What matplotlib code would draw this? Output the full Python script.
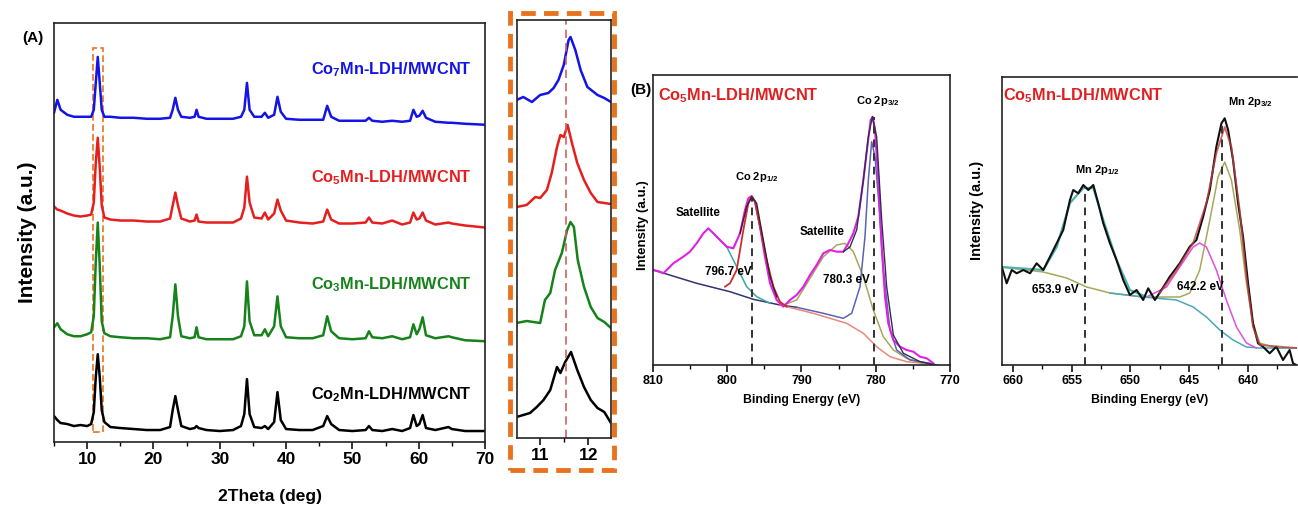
import matplotlib
matplotlib.use("Agg")
import matplotlib.pyplot as plt
from matplotlib.patches import Rectangle
from matplotlib.ticker import MultipleLocator

plt.rcParams['font.family'] = ['Liberation Sans Narrow', 'Liberation Sans', 'DejaVu Sans']
plt.rcParams['mathtext.default'] = 'regular'

W, H = 1298, 512

# ---------------- (A) XRD data ----------------
xrd_names = ['Co$_7$Mn-LDH/MWCNT', 'Co$_5$Mn-LDH/MWCNT', 'Co$_3$Mn-LDH/MWCNT', 'Co$_2$Mn-LDH/MWCNT']
xrd_colors = ['#1414e6', '#e61e1e', '#16821a', '#000000']
xrd_offset = [318, 215, 101, 10]

two_theta = [5, 5.5, 6, 7, 8, 9, 10, 10.6, 11.0, 11.3, 11.6, 11.9, 12.2, 12.6, 13.5, 15, 17, 19, 21,
             22.5, 22.9, 23.3, 23.7, 24.2, 25.5, 26.2, 26.5, 26.8, 28, 30, 32, 33.2, 33.7, 34.1, 34.5,
             35.2, 36.3, 36.8, 37.3, 38.2, 38.7, 39.2, 40, 42, 44, 45.6, 46.2, 46.8, 48, 50, 52, 52.5,
             53, 54.5, 56, 57.5, 58.7, 59.2, 59.7, 60.1, 60.6, 61.1, 62.5, 64.5, 65, 67, 70]
i_co7 = [12, 25, 15, 10, 8, 8, 8, 8, 15, 42, 68, 42, 15, 8, 8, 7, 7, 6, 6,
         7, 15, 27, 15, 8, 7, 8, 15, 8, 6, 6, 6, 8, 15, 42, 15,
         8, 8, 12, 7, 10, 28, 13, 6, 5, 5, 5, 19, 8, 4, 4, 4, 7,
         4, 3, 4, 3, 4, 15, 8, 9, 14, 7, 3, 2, 2, 1, 0]
i_co5 = [21, 18, 17, 14, 12, 11, 12, 13, 25, 65, 90, 60, 22, 10, 8, 7, 7, 6, 6,
         9, 22, 35, 22, 9, 6, 7, 13, 6, 5, 5, 5, 9, 20, 51, 25,
         10, 9, 15, 8, 14, 28, 17, 7, 5, 4, 6, 18, 8, 4, 4, 5, 10,
         5, 4, 7, 3, 5, 15, 8, 9, 15, 7, 3, 5, 4, 2, 0]
i_co3 = [14, 18, 12, 7, 5, 5, 7, 9, 25, 80, 119, 75, 20, 8, 5, 4, 3, 3, 2,
         4, 25, 57, 25, 5, 3, 4, 14, 4, 2, 2, 2, 5, 15, 60, 20,
         6, 6, 12, 5, 15, 45, 15, 4, 3, 3, 6, 25, 10, 3, 2, 3, 10,
         4, 3, 5, 2, 4, 17, 7, 12, 24, 6, 3, 5, 4, 1, 0]
i_co2 = [16, 12, 9, 8, 6, 7, 6, 8, 20, 55, 78, 55, 22, 10, 5, 4, 3, 2, 2,
         5, 22, 36, 22, 6, 3, 4, 6, 4, 2, 1, 2, 6, 18, 53, 18,
         5, 4, 6, 3, 10, 40, 12, 3, 2, 2, 6, 16, 8, 2, 1, 2, 6,
         2, 1, 3, 1, 4, 17, 6, 8, 17, 4, 2, 5, 3, 1, 1]
xrd_series = [i_co7, i_co5, i_co3, i_co2]

# zoom of the (003) reflection
zoom_offset = [336, 234, 115, 21]
z_x_co7 = [10.51, 10.65, 10.83, 11.0, 11.17, 11.28, 11.38, 11.49, 11.59, 11.63, 11.73, 11.84, 11.98, 12.19, 12.33, 12.47]
z_y_co7 = [2, 5, 0, 7, 9, 14, 22, 37, 62, 65, 52, 32, 15, 7, 4, 0]
z_x_co5 = [10.51, 10.72, 10.90, 11.0, 11.14, 11.24, 11.35, 11.42, 11.49, 11.57, 11.66, 11.77, 11.91, 12.05, 12.19, 12.33, 12.47]
z_y_co5 = [-3, -1, 7, 6, 14, 31, 57, 69, 67, 79, 61, 41, 24, 11, 2, 1, 0]
z_x_co3 = [10.51, 10.72, 10.86, 11.0, 11.10, 11.21, 11.31, 11.45, 11.56, 11.63, 11.70, 11.78, 11.91, 12.05, 12.19, 12.33, 12.47]
z_y_co3 = [0, 2, 1, 0, 23, 30, 53, 70, 93, 101, 96, 63, 36, 16, 5, 1, -5]
z_x_co2 = [10.51, 10.65, 10.79, 10.93, 11.07, 11.21, 11.35, 11.42, 11.52, 11.64, 11.77, 11.91, 12.05, 12.19, 12.33, 12.47]
z_y_co2 = [0, 2, 4, 10, 17, 27, 50, 44, 55, 65, 47, 30, 17, 9, 5, -6]
zoom_x = [z_x_co7, z_x_co5, z_x_co3, z_x_co2]
zoom_y = [z_y_co7, z_y_co5, z_y_co3, z_y_co2]
ref_peak = 11.54

# ---------------- (B) XPS Co 2p ----------------
co_be = [809.96, 809.06, 808.61, 807.26, 805.92, 805.02, 804.12, 803.22, 802.55, 801.87, 800.98, 800.08,
         799.18, 798.28, 797.61, 797.16, 796.71, 796.26, 795.59, 794.92, 794.24, 793.34, 792.45, 791.55,
         790.65, 789.75, 788.85, 787.96, 787.06, 786.16, 785.26, 784.37, 783.69, 783.02, 782.35, 781.67,
         781.13, 780.68, 780.41, 780.10, 779.65, 779.20, 778.75, 778.31, 777.63, 776.73, 775.84, 774.94,
         774.04, 773.14, 772.24]
co_raw = [95, 93.3, 91.7, 101.7, 108.3, 113.3, 121.7, 131.7, 136.7, 131.7, 125, 118.3,
          116.7, 131.7, 155, 166.7, 169, 163.3, 138.3, 108.3, 81.7, 65, 58.3, 65,
          70, 78.3, 90, 100, 111.7, 115, 113.3, 113.3, 121.7, 131.7, 148.3, 185,
          218.3, 245, 248.3, 235, 185, 118.3, 68.3, 41.7, 25, 18.3, 15, 13.3,
          8.3, 6.7, 1.7]
co_bg_be = [809.96, 804.12, 799.63, 796.49, 792.90, 790.65]
co_bg = [95, 81.7, 73.3, 65.7, 60, 57.7]
co_p12_be = [800.30, 799.63, 798.73, 797.83, 797.16, 796.71, 796.26, 795.59, 794.69, 793.79, 792.90, 792.0]
co_p12 = [78.3, 81.7, 95, 135, 161.7, 168.3, 163.3, 138.3, 105, 78.3, 63.3, 58.3]
co_bg2_be = [792.90, 788.41, 783.92, 781.67, 779.88, 778.08, 775.84, 773.59, 771.80]
co_bg2 = [60, 51.7, 41.7, 31.7, 18.3, 8.3, 3.3, 1.7, 0]
co_sat1_be = [801.87, 800.08, 798.73, 797.38, 796.04, 794.24]
co_sat1 = [131.7, 118.3, 98.3, 78.3, 68.3, 61.7]
co_sat2_be = [792.45, 790.65, 788.85, 787.06, 785.26, 784.14, 783.02, 781.67, 780.33, 778.98, 777.63, 775.84, 773.59]
co_sat2 = [60, 65, 86.7, 108.3, 120, 121.7, 113.3, 88.3, 55, 28.3, 15, 6.7, 1.7]
co_p32_be = [790.65, 787.06, 784.37, 783.24, 782.12, 781.45, 781.0, 780.55, 780.10, 779.65, 778.98, 778.08, 777.18, 775.39, 772.69]
co_p32 = [57.7, 51.7, 46.7, 51.7, 78.3, 128.3, 185, 223.3, 208.3, 168.3, 95, 35, 15, 5, 1.7]
co_env_a_be = [798.28, 797.38, 796.71, 796.04, 795.14, 794.24, 793.34]
co_env_a = [131.7, 158.3, 168.3, 161.7, 125, 88.3, 68.3]
co_env_b_be = [784.37, 783.47, 782.57, 781.67, 781.0, 780.46, 779.88, 779.20, 778.53, 777.63, 776.28, 774.04, 771.80]
co_env_b = [113.3, 118, 135, 185, 228.3, 248.3, 228.3, 145, 78.3, 30, 11.7, 3.3, 0]
co_marks = [796.7, 780.3]
co_mark_top = [168, 248]

# ---------------- (B) XPS Mn 2p ----------------
mn_be = [660.96, 660.54, 660.11, 659.69, 659.12, 658.55, 657.99, 657.42, 656.85, 656.28, 655.72, 655.15,
         654.87, 654.44, 654.01, 653.59, 653.16, 652.74, 652.31, 651.74, 651.18, 650.61, 650.04, 649.47,
         648.91, 648.48, 647.91, 647.35, 646.64, 645.79, 644.94, 644.37, 643.80, 643.23, 642.67, 642.24,
         641.96, 641.67, 641.25, 640.82, 640.40, 639.97, 639.55, 639.12, 638.70, 638.13, 637.56, 636.99,
         636.43, 636.14, 635.86]
mn_raw = [98.3, 81.7, 95, 91.7, 95, 91.7, 101.7, 95, 108.3, 121.7, 135, 165,
          175, 171.7, 180, 175, 180, 161.7, 141.7, 121.7, 105, 85, 70, 75,
          65, 76.7, 65, 75, 88.3, 101.7, 118.3, 125, 148.3, 175, 218.3, 241.7,
          246.7, 235, 205, 161.7, 128.3, 81.7, 41.7, 21.7, 18.3, 11.7, 18.3, 5,
          15, 1.7, 0]
mn_p32_be = [660.96, 657.42, 655.43, 653.73, 651.74, 648.91, 645.79, 644.94, 644.09, 643.23, 642.53,
             641.96, 641.39, 640.68, 640.11, 639.55, 638.98, 637.56, 635.86]
mn_p32 = [98, 93, 87, 78, 72, 68, 68, 72, 95, 145, 188, 203, 185, 135, 82, 42, 22, 17, 17]
mn_bg_be = [651.74, 648.91, 646.07, 644.65, 643.52, 642.38, 641.25, 640.11, 638.98, 635.86]
mn_bg = [72, 68, 65, 58, 48, 35, 25, 18, 17, 17]
mn_sat_be = [648.62, 646.92, 645.79, 644.65, 644.09, 643.52, 642.67, 641.82, 640.96, 640.11, 639.26]
mn_sat = [68, 78, 98, 118, 122, 118, 95, 65, 38, 22, 17]
mn_env_b_be = [647.49, 646.07, 644.65, 643.52, 642.67, 641.96, 641.39, 640.68, 640.11, 639.55, 638.98, 635.86]
mn_env_b = [72, 95, 122, 162, 212, 238, 218, 155, 88, 38, 20, 17]
mn_env_a_be = [660.96, 657.42, 656.28, 655.15, 654.01, 653.16, 652.31, 651.18, 650.04, 648.62]
mn_env_a = [98, 95, 118, 162, 177, 177, 145, 105, 75, 68]
mn_marks = [653.9, 642.2]
mn_mark_top = [178, 245]


def px_axes(fig, l, t, r, b):
    return fig.add_axes([l / W, 1 - b / H, (r - l) / W, (b - t) / H])


def ftext(fig, x, y, s, **kw):
    return fig.text(x / W, 1 - y / H, s, **kw)


def style_axes(ax, size, major, minor, lw=1.2):
    ax.set_yticks([])
    ax.xaxis.set_major_locator(MultipleLocator(major))
    ax.xaxis.set_minor_locator(MultipleLocator(minor))
    ax.tick_params(axis='x', which='major', direction='out', length=5, width=1.1, labelsize=size, pad=2)
    ax.tick_params(axis='x', which='minor', direction='out', length=3, width=1.0)
    for s in ax.spines.values():
        s.set_linewidth(lw)
        s.set_color('#222222')
    for lab in ax.get_xticklabels():
        lab.set_fontweight('bold')


fig = plt.figure(figsize=(W / 100, H / 100), dpi=100)

# (A) stacked XRD patterns
ax = px_axes(fig, 54, 23, 485, 442)
for ys, off, c in zip(xrd_series, xrd_offset, xrd_colors):
    ax.plot(two_theta, [v + off for v in ys], color=c, lw=1.8)
ax.set_xlim(5, 70)
ax.set_ylim(0, 420)
ax.add_patch(Rectangle((10.9, 10), 1.5, 385, fill=False, ec='#e8731e', lw=1.2, ls=(0, (4, 2))))
style_axes(ax, 12.5, 10, 5)
ax.set_xlabel('2Theta (deg)', fontsize=12.5, fontweight='bold', labelpad=16)
ax.set_ylabel('Intensity (a.u.)', fontsize=15, fontweight='bold', labelpad=12)
for name, c, y in zip(xrd_names, xrd_colors, [70, 178, 285, 395]):
    ftext(fig, 472, y, name, color=c, fontsize=11.8, fontweight='bold', ha='right', va='center')
ftext(fig, 33, 38, '(A)', fontsize=11, fontweight='bold', ha='center', va='center')

# zoom of the first reflection
axz = px_axes(fig, 517, 20, 611, 438)
for xs, ys, off, c in zip(zoom_x, zoom_y, zoom_offset, xrd_colors):
    axz.plot(xs, [v + off for v in ys], color=c, lw=1.8)
axz.axvline(ref_peak, color='#d06060', lw=1.2, ls=(0, (5, 3)))
axz.set_xlim(10.52, 12.47)
axz.set_ylim(0, 418)
style_axes(axz, 12.5, 1, 0.5)
fig.patches.append(Rectangle((510 / W, 1 - 470 / H), 104 / W, 457 / H, transform=fig.transFigure,
                             fill=False, ec='#e8731e', lw=3.5, ls=(0, (3, 1.7))))

# (B) Co 2p
axc = px_axes(fig, 653, 75, 950, 365)
axc.plot(co_bg_be, co_bg, color='#33336e', lw=1.1)
axc.plot(co_bg2_be, co_bg2, color='#e88a7a', lw=1.1)
axc.plot(co_sat1_be, co_sat1, color='#3aa8a0', lw=1.1)
axc.plot(co_sat2_be, co_sat2, color='#a8a85a', lw=1.1)
axc.plot(co_p32_be, co_p32, color='#5a64b4', lw=1.1)
axc.plot(co_be, co_raw, color='#e020e6', lw=1.5)
axc.plot(co_p12_be, co_p12, color='#c83030', lw=1.3)
axc.plot(co_env_a_be, co_env_a, color='#3a2030', lw=1.0)
axc.plot(co_env_b_be, co_env_b, color='#303050', lw=1.0)
for xm, top in zip(co_marks, co_mark_top):
    axc.plot([xm, xm], [0, top], color='#333333', lw=1.4, ls=(0, (4, 3)))
axc.set_xlim(810, 770)
axc.set_ylim(0, 290)
style_axes(axc, 9, 10, 5)
axc.set_xlabel('Binding Energy (eV)', fontsize=8.8, fontweight='bold', labelpad=5)
ftext(fig, 658, 96, 'Co$_5$Mn-LDH/MWCNT', color='#e02020', fontsize=11.8, fontweight='bold', va='center')
ftext(fig, 878, 101, 'Co 2p$_{3/2}$', fontsize=8, fontweight='bold', ha='center', va='center')
ftext(fig, 757, 177, 'Co 2p$_{1/2}$', fontsize=8, fontweight='bold', ha='center', va='center')
ftext(fig, 698, 213, 'Satellite', fontsize=8.4, fontweight='bold', ha='center', va='center')
ftext(fig, 822, 232, 'Satellite', fontsize=8.4, fontweight='bold', ha='center', va='center')
ftext(fig, 728, 272, '796.7 eV', fontsize=8.4, fontweight='bold', ha='center', va='center')
ftext(fig, 846, 280, '780.3 eV', fontsize=8.4, fontweight='bold', ha='center', va='center')
ftext(fig, 643, 225, 'Intensity (a.u.)', fontsize=9.5, fontweight='bold', rotation=90, ha='center', va='center')
ftext(fig, 641, 90, '(B)', fontsize=11, fontweight='bold', ha='center', va='center')

# (B) Mn 2p
axm = px_axes(fig, 1002, 77, 1297, 365)
axm.plot(mn_p32_be, mn_p32, color='#a8a85a', lw=1.1)
axm.plot(mn_bg_be, mn_bg, color='#4aa8b8', lw=1.1)
axm.plot(mn_sat_be, mn_sat, color='#e050e0', lw=1.1)
axm.plot(mn_env_a_be, mn_env_a, color='#50b0b0', lw=1.6)
axm.plot(mn_be, mn_raw, color='#101010', lw=1.5)
axm.plot(mn_env_b_be, mn_env_b, color='#c04040', lw=1.3, alpha=0.8)
for xm, top in zip(mn_marks, mn_mark_top):
    axm.plot([xm, xm], [0, top], color='#333333', lw=1.4, ls=(0, (4, 3)))
axm.set_xlim(660.94, 635.8)
axm.set_ylim(0, 288)
style_axes(axm, 9, 5, 2.5)
axm.set_xlabel('Binding Energy (eV)', fontsize=8.8, fontweight='bold', labelpad=5)
axm.spines['right'].set_visible(False)
ftext(fig, 1003, 96, 'Co$_5$Mn-LDH/MWCNT', color='#e02020', fontsize=11.8, fontweight='bold', va='center')
ftext(fig, 1250, 102, 'Mn 2p$_{3/2}$', fontsize=8, fontweight='bold', ha='center', va='center')
ftext(fig, 1097, 170, 'Mn 2p$_{1/2}$', fontsize=8, fontweight='bold', ha='center', va='center')
ftext(fig, 1055, 290, '653.9 eV', fontsize=8.4, fontweight='bold', ha='center', va='center')
ftext(fig, 1200, 287, '642.2 eV', fontsize=8.4, fontweight='bold', ha='center', va='center')
ftext(fig, 977, 210, 'Intensity (a.u.)', fontsize=10.5, fontweight='bold', rotation=90, ha='center', va='center')

fig.savefig('out.png', dpi=100)
